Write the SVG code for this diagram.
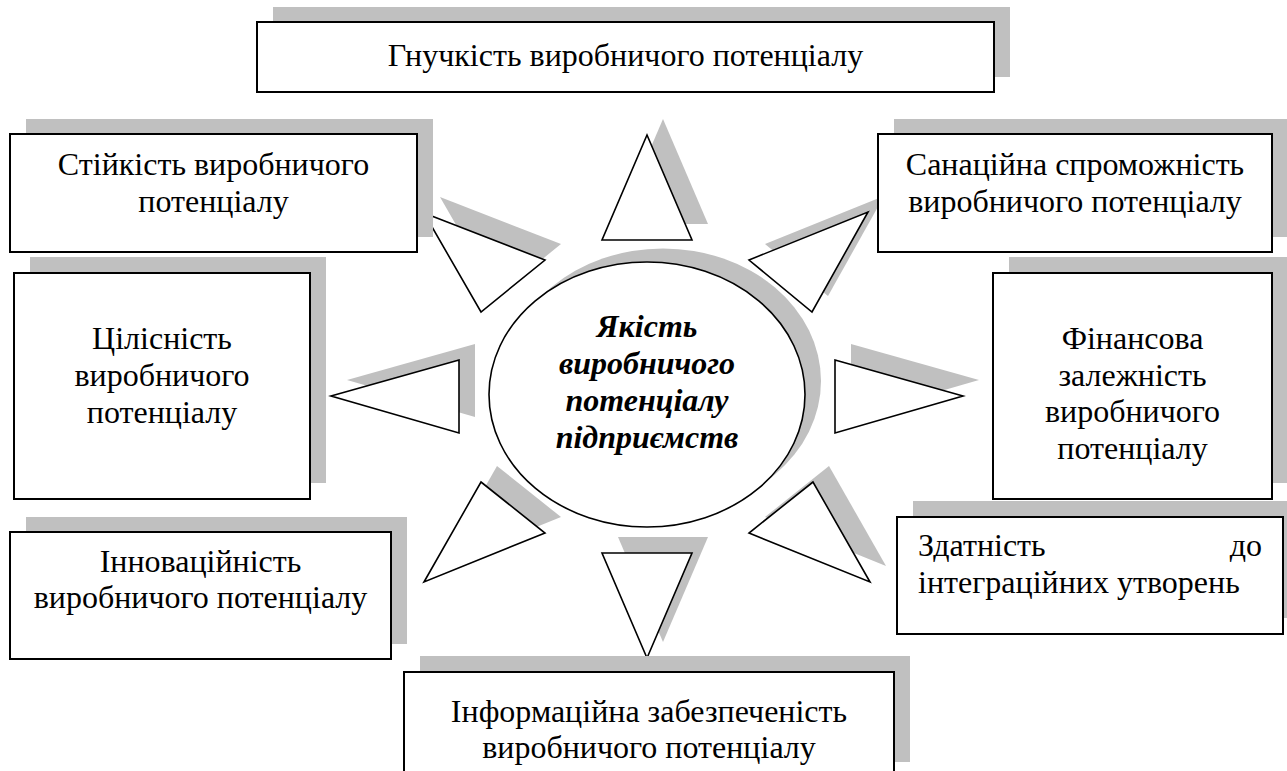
<svg xmlns="http://www.w3.org/2000/svg" width="1287" height="771" viewBox="0 0 1287 771" font-family="'Liberation Serif', 'Times New Roman', 'DejaVu Serif', serif">
<style>
.sh{fill:#c0c0c0}
.box{fill:#fff;stroke:#000;stroke-width:2}
.tri{fill:#fff;stroke:#000;stroke-width:1.6}
.t{font-family:'Liberation Serif','Times New Roman','DejaVu Serif',serif;font-size:32px;fill:#000}
.c{text-anchor:middle}
.e{font-weight:bold;font-style:italic}
</style>
<rect width="1287" height="771" fill="#fff"/>
<g id="connectors">
  <g class="sh" transform="translate(16,-16)">
    <polygon points="602,240 692,240 647,135"/>
    <polygon points="749,260 868,212 812,312"/>
    <polygon points="835,360 963,396 835,433"/>
    <polygon points="813,482 749,533 870,582"/>
    <polygon points="602,553 692,553 647,658"/>
    <polygon points="481,482 545,533 424,582"/>
    <polygon points="459,360 331,396 459,433"/>
    <polygon points="424,213 545,260 481,312"/>
  </g>
  <polygon class="tri" points="602,240 692,240 647,135"/>
  <polygon class="tri" points="749,260 868,212 812,312"/>
  <polygon class="tri" points="835,360 963,396 835,433"/>
  <polygon class="tri" points="813,482 749,533 870,582"/>
  <polygon class="tri" points="602,553 692,553 647,658"/>
  <polygon class="tri" points="481,482 545,533 424,582"/>
  <polygon class="tri" points="459,360 331,396 459,433"/>
  <polygon class="tri" points="424,213 545,260 481,312"/>
</g>
<g id="center">
  <ellipse class="sh" cx="663" cy="381" rx="158" ry="132.5"/>
  <ellipse cx="647" cy="394.5" rx="158" ry="132.5" fill="#fff" stroke="#000" stroke-width="1.6"/>
  <text class="t c e" x="647" y="337">Якість</text>
  <text class="t c e" x="647" y="374">виробничого</text>
  <text class="t c e" x="647" y="411">потенціалу</text>
  <text class="t c e" x="647" y="448">підприємств</text>
</g>
<g id="n-gnuchkist">
  <rect class="sh" x="273" y="7" width="737" height="70"/>
  <rect class="box" x="257" y="22" width="737" height="70"/>
  <text class="t c" x="625.5" y="66">Гнучкість виробничого потенціалу</text>
</g>
<g id="n-stiikist">
  <rect class="sh" x="26" y="119" width="407" height="118"/>
  <rect class="box" x="10" y="134" width="407" height="118"/>
  <text class="t c" x="213.5" y="175">Стійкість виробничого</text>
  <text class="t c" x="213.5" y="212">потенціалу</text>
</g>
<g id="n-sanatsiina">
  <rect class="sh" x="894" y="119" width="394" height="118"/>
  <rect class="box" x="878" y="134" width="394" height="118"/>
  <text class="t c" x="1075" y="175">Санаційна спроможність</text>
  <text class="t c" x="1075" y="212">виробничого потенціалу</text>
</g>
<g id="n-tsilisnist">
  <rect class="sh" x="30" y="257" width="296" height="226"/>
  <rect class="box" x="14" y="273" width="296" height="226"/>
  <text class="t c" x="162" y="349">Цілісність</text>
  <text class="t c" x="162" y="386">виробничого</text>
  <text class="t c" x="162" y="423">потенціалу</text>
</g>
<g id="n-finansova">
  <rect class="sh" x="1009" y="257" width="279" height="226"/>
  <rect class="box" x="993" y="273" width="279" height="226"/>
  <text class="t c" x="1132.5" y="349">Фінансова</text>
  <text class="t c" x="1132.5" y="386">залежність</text>
  <text class="t c" x="1132.5" y="422">виробничого</text>
  <text class="t c" x="1132.5" y="459">потенціалу</text>
</g>
<g id="n-innovatsiinist">
  <rect class="sh" x="26" y="517" width="381" height="127"/>
  <rect class="box" x="10" y="532" width="381" height="127"/>
  <text class="t c" x="200.5" y="572">Інноваційність</text>
  <text class="t c" x="200.5" y="608">виробничого потенціалу</text>
</g>
<g id="n-zdatnist">
  <rect class="sh" x="913" y="501" width="386" height="117"/>
  <rect class="box" x="897" y="517" width="386" height="117"/>
  <text class="t" x="918" y="556">Здатність</text>
  <text class="t" x="1262" y="556" text-anchor="end">до</text>
  <text class="t" x="918" y="593">інтеграційних утворень</text>
</g>
<g id="n-informatsiina">
  <rect class="sh" x="420" y="656" width="490" height="106"/>
  <rect class="box" x="404" y="672" width="490" height="106"/>
  <text class="t c" x="649" y="722">Інформаційна забезпеченість</text>
  <text class="t c" x="649" y="758">виробничого потенціалу</text>
</g>
</svg>
